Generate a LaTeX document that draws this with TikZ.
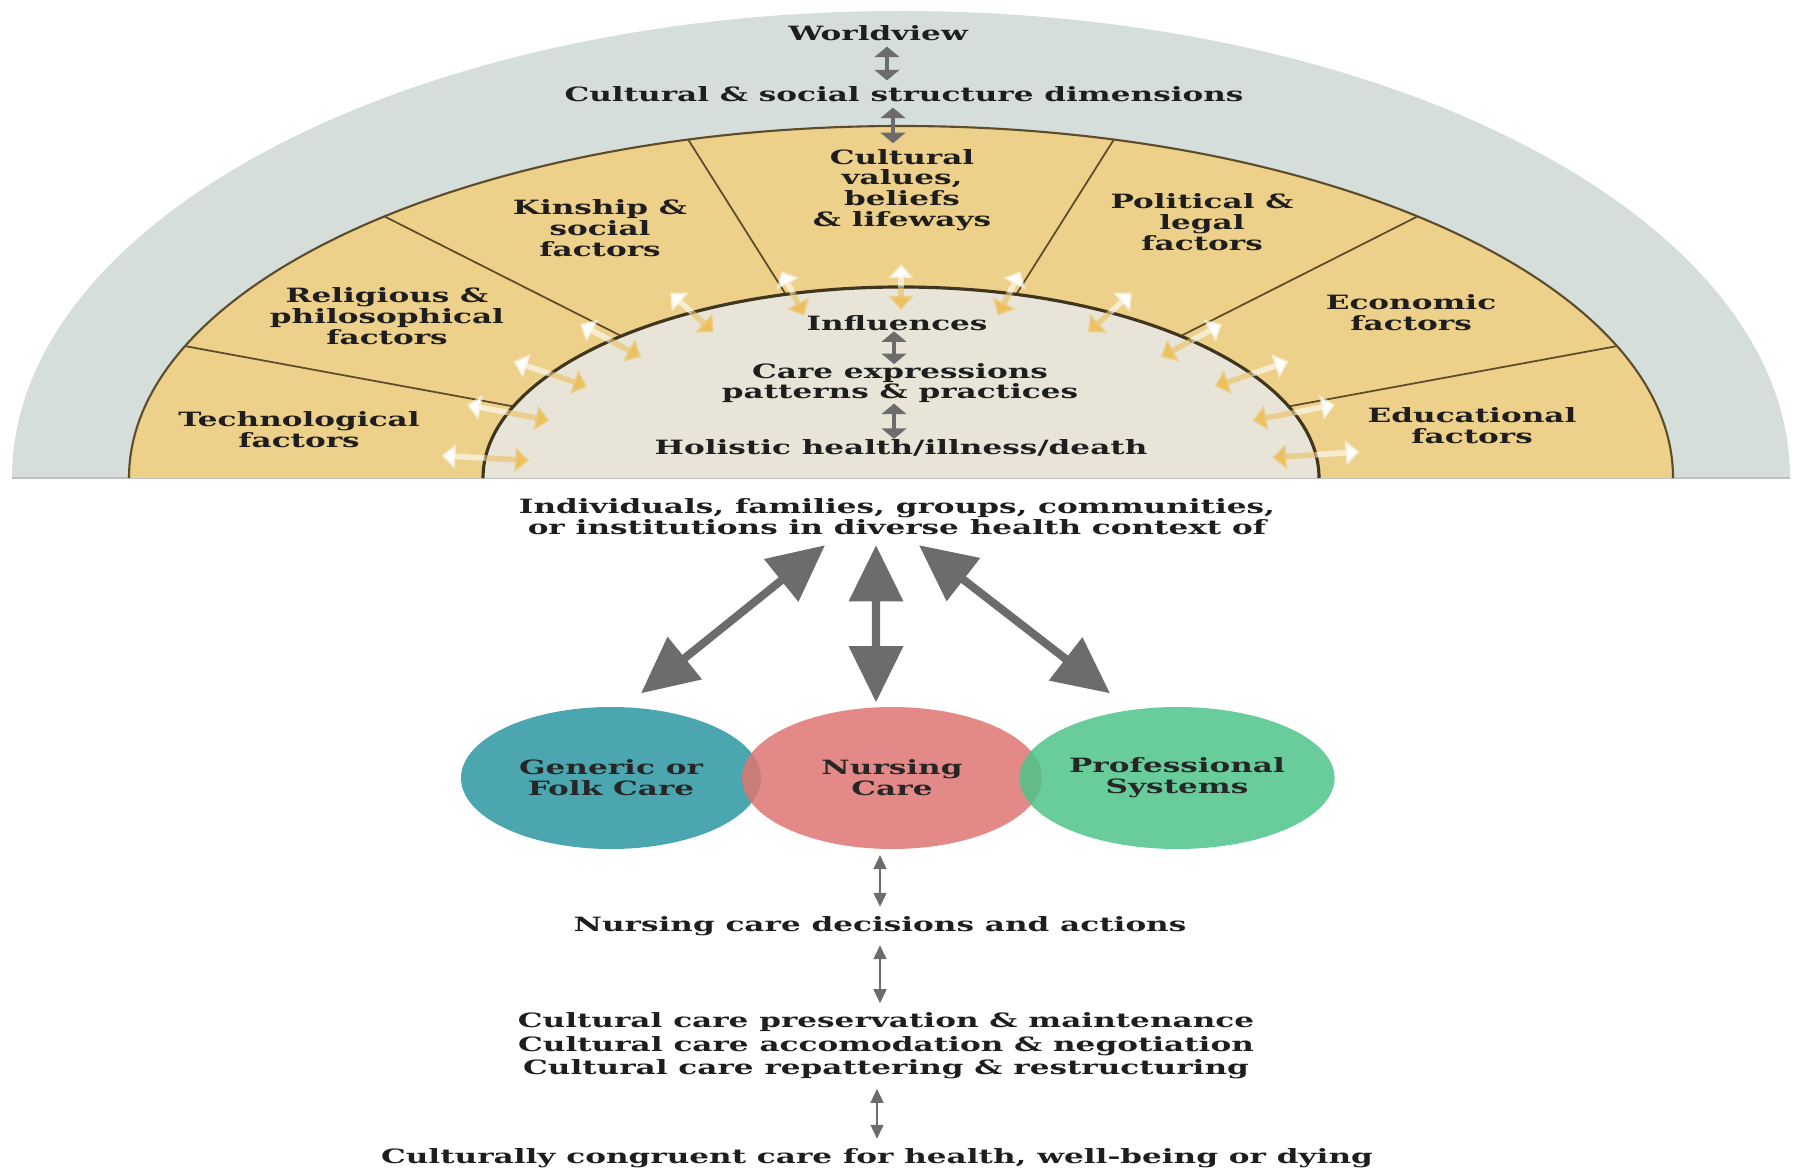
\documentclass[tikz,border=0pt]{standalone}
\usepackage{fontspec}
\setmainfont{DejaVu Serif}[FakeStretch=1.58]
\definecolor{WorldGrey}{RGB}{213,222,218}
\definecolor{BandGold}{RGB}{237,208,138}
\definecolor{CoreBeige}{RGB}{232,229,216}
\definecolor{EdgeBrown}{RGB}{92,76,42}
\definecolor{ArrowGrey}{RGB}{108,108,108}
\definecolor{FolkTeal}{RGB}{76,166,175}
\definecolor{NurseRed}{RGB}{222,118,115}
\definecolor{ProfGreen}{RGB}{78,195,138}
\definecolor{InkDark}{RGB}{30,30,30}
\definecolor{GlintGold}{RGB}{236,192,92}
\usetikzlibrary{arrows.meta, shapes.geometric, calc}

\begin{document}
\begin{tikzpicture}[
        txt/.style={font=\bfseries\fontsize{5.6}{5.9}\selectfont, text=InkDark, align=center, inner sep=1pt},
        smallarr/.style={{Triangle[width=7pt,length=3pt]}-{Triangle[width=7pt,length=3pt]}, line width=1.2pt, draw=ArrowGrey, shorten >=0.5pt, shorten <=0.5pt},
        thinarr/.style={{Triangle[width=3.6pt,length=4pt]}-{Triangle[width=3.6pt,length=4pt]}, line width=0.7pt, draw=ArrowGrey, shorten >=1.5pt, shorten <=1.5pt},
        bigarr/.style={{Triangle[width=15pt,length=16pt]}-{Triangle[width=15pt,length=16pt]}, line width=2.3pt, draw=ArrowGrey},
        circ/.style={ellipse, minimum width=3.0cm, minimum height=1.42cm, inner sep=0pt, txt, text=black!85},
        divider/.style={draw=EdgeBrown, line width=0.5pt},
        glintout/.style={-{Triangle[width=7pt,length=4pt]}, line width=1.6pt, draw=white, draw opacity=0.6},
        glintin/.style={-{Triangle[width=7pt,length=4pt]}, line width=1.6pt, draw=GlintGold, draw opacity=0.6}
    ]
        \useasboundingbox (0,0) rectangle (18.02,11.69);
        \coordinate (hub) at (9.01,6.91);

        % Semicircle rings
        \fill[WorldGrey] (0.12,6.91) arc[start angle=180, end angle=0, x radius=8.89, y radius=4.67] -- cycle;
        \draw[black!25, line width=0.8pt] (0.12,6.91) -- (17.90,6.91);
        \filldraw[fill=BandGold, draw=EdgeBrown, line width=0.6pt] (1.29,6.91) arc[start angle=180, end angle=0, x radius=7.72, y radius=3.52];
        \foreach \a in {22,48,74,106,132,158}
            \draw[divider] ($(hub)+(\a:4.18 and 1.91)$) -- ($(hub)+(\a:7.72 and 3.52)$);
        \filldraw[fill=CoreBeige, draw=EdgeBrown!70!black, line width=0.9pt] (4.83,6.91) arc[start angle=180, end angle=0, x radius=4.18, y radius=1.91];

        % Faint arrows across the inner ring
        \foreach \a in {174,160,147,134,120,105,90,75,60,46,33,20,7} {
            \draw[glintout] ($(hub)+(\a:4.18 and 1.91)$) -- ($(hub)+(\a:4.62 and 2.14)$);
            \draw[glintin] ($(hub)+(\a:4.18 and 1.91)$) -- ($(hub)+(\a:3.74 and 1.68)$);
        }

        % Outer texts
        \node[txt] (wv) at (8.78,11.36) {Worldview};
        \node[txt] (csd) at (9.04,10.75) {Cultural \& social structure dimensions};

        % Band factors
        \node[txt] (values) at (9.02,9.79) {Cultural\\values,\\beliefs\\\& lifeways};
        \node[txt] (kin) at (6.00,9.41) {Kinship \&\\social\\factors};
        \node[txt] (pol) at (12.02,9.47) {Political \&\\legal\\factors};
        \node[txt] (rel) at (3.87,8.53) {Religious \&\\philosophical\\factors};
        \node[txt] (eco) at (14.11,8.56) {Economic\\factors};
        \node[txt] (tech) at (2.99,7.39) {Technological\\factors};
        \node[txt] (edu) at (14.72,7.43) {Educational\\factors};

        % Core texts
        \node[txt] (infl) at (8.97,8.46) {Influences};
        \node[txt] (care) at (9.00,7.86) {Care expressions\\patterns \& practices};
        \node[txt] (hol) at (9.01,7.21) {Holistic health/illness/death};

        % Lower part
        \node[txt] (ind) at (8.97,6.52) {Individuals, families, groups, communities,\\or institutions in diverse health context of};
        \node[circ, fill=FolkTeal] (folk) at (6.11,3.91) {Generic or\\Folk Care};
        \node[circ, fill=NurseRed, fill opacity=0.85, text opacity=1] (nursing) at (8.92,3.91) {Nursing\\Care};
        \node[circ, fill=ProfGreen, fill opacity=0.85, text opacity=1] (prof) at (11.77,3.91) {Professional\\Systems};
        \node[txt] (dec) at (8.80,2.43) {Nursing care decisions and actions};
        \node[txt, font=\bfseries\fontsize{5.6}{6.7}\selectfont] (acts) at (8.86,1.23) {Cultural care preservation \& maintenance\\Cultural care accomodation \& negotiation\\Cultural care repattering \& restructuring};
        \node[txt] (cong) at (8.77,0.11) {Culturally congruent care for health, well-being or dying};

        % Arrows
        \draw[smallarr] ([xshift=0.09cm]wv.south) -- ([xshift=0.09cm]wv.south |- csd.north);
        \draw[smallarr] ([xshift=-0.11cm]csd.south) -- ([xshift=-0.11cm]csd.south |- values.north);
        \draw[smallarr, shorten >=-1.5pt, shorten <=-1pt] ([xshift=-0.03cm]infl.south) -- ([xshift=-0.03cm]infl.south |- care.north);
        \draw[smallarr, shorten >=-1pt, shorten <=-1pt] ([xshift=-0.06cm]care.south) -- ([xshift=-0.06cm]care.south |- hol.north);
        \draw[bigarr] ([xshift=-0.72cm,yshift=-0.06cm]ind.south) -- ([xshift=0.30cm,yshift=0.13cm]folk.north);
        \draw[bigarr] ([xshift=-0.21cm,yshift=-0.06cm]ind.south) -- ([xshift=-0.16cm,yshift=0.04cm]nursing.north);
        \draw[bigarr] ([xshift=0.22cm,yshift=-0.06cm]ind.south) -- ([xshift=-0.67cm,yshift=0.13cm]prof.north);
        \draw[thinarr] (nursing.south -| dec.north) -- (dec.north);
        \draw[thinarr] (dec.south) -- (dec.south |- acts.north);
        \draw[thinarr] (cong.north |- acts.south) -- (cong.north);
    \end{tikzpicture}
\end{document}
